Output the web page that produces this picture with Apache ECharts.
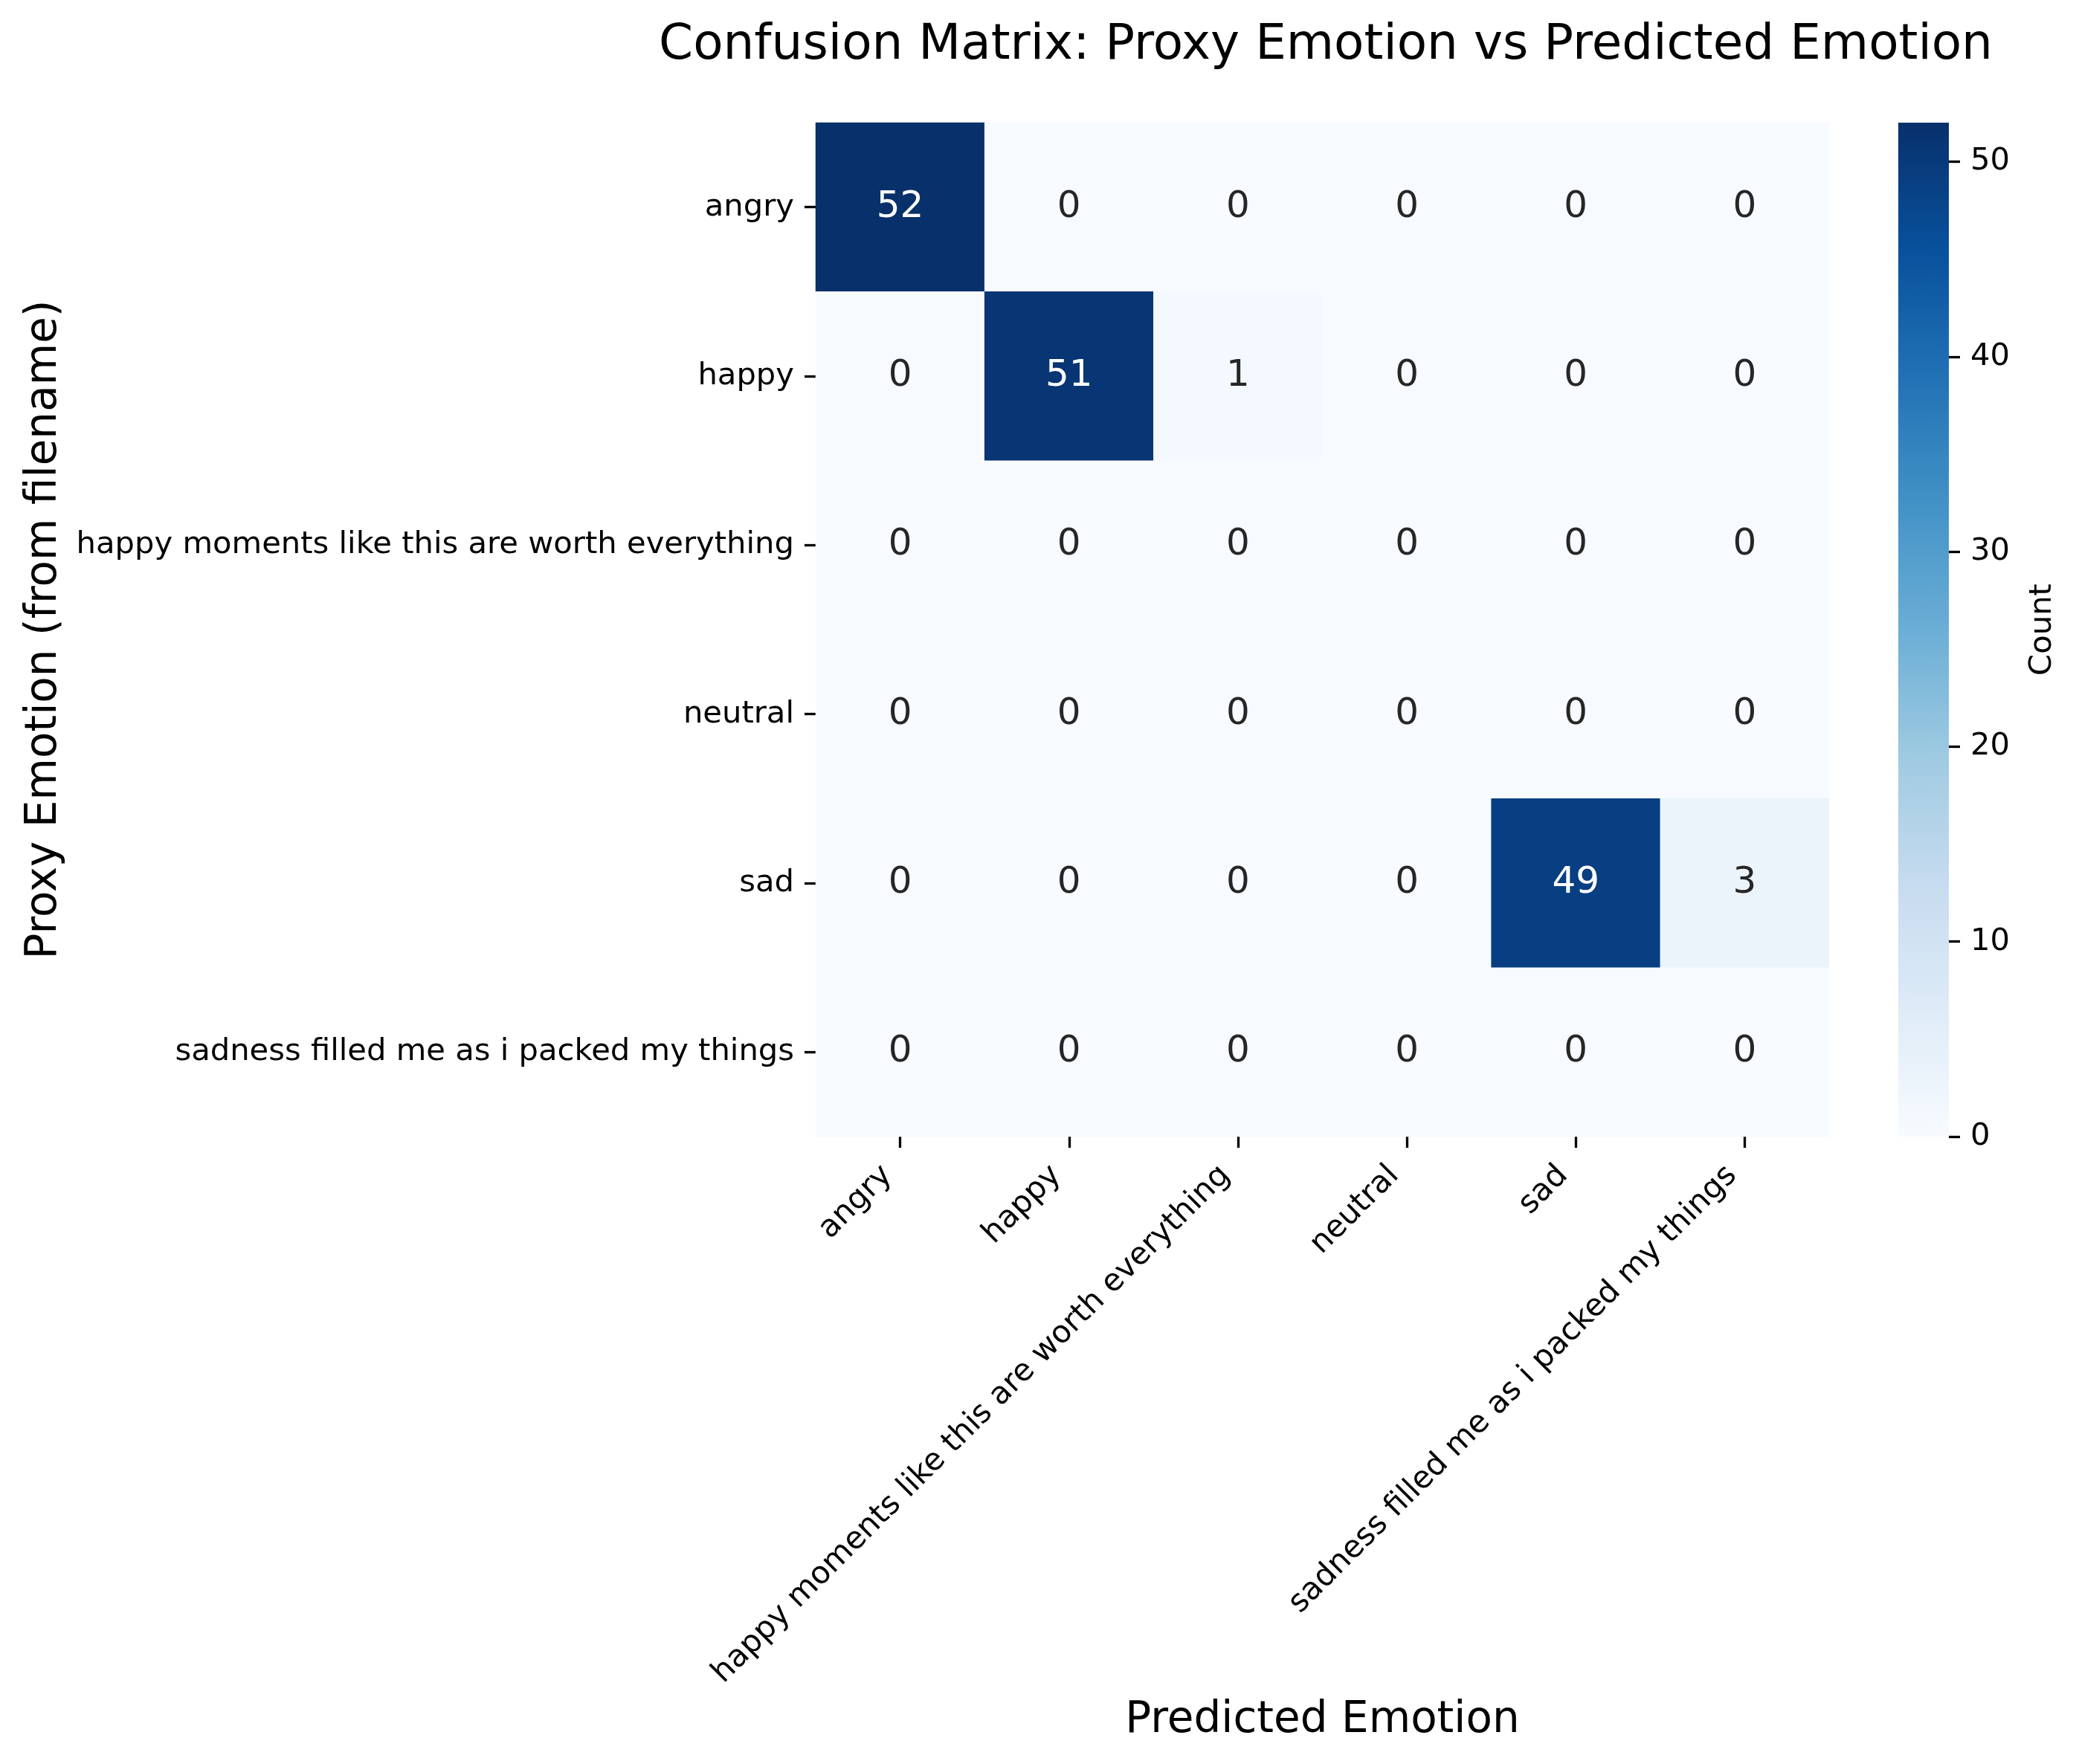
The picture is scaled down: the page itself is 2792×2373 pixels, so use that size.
<!DOCTYPE html>
<html>
<head>
<meta charset="utf-8">
<script src="https://cdn.jsdelivr.net/npm/echarts@6/dist/echarts.min.js"></script>
<style>
  html, body { margin: 0; padding: 0; background: #fff; }
  #chart { width: 2792px; height: 2373px; }
</style>
</head>
<body>
<div id="chart"></div>
<script>
// labels for both axes (same order as the matrix)
const emotions = [
  'angry',
  'happy',
  'happy moments like this are worth everything',
  'neutral',
  'sad',
  'sadness filled me as i packed my things'
];

// rows = proxy emotion, columns = predicted emotion
const rowAngry   = [52, 0, 0, 0, 0, 0];
const rowHappy   = [0, 51, 1, 0, 0, 0];
const rowMoments = [0, 0, 0, 0, 0, 0];
const rowNeutral = [0, 0, 0, 0, 0, 0];
const rowSad     = [0, 0, 0, 0, 49, 3];
const rowSadness = [0, 0, 0, 0, 0, 0];
const matrix = [rowAngry, rowHappy, rowMoments, rowNeutral, rowSad, rowSadness];

const colorbarTicks = [0, 10, 20, 30, 40, 50];

// matplotlib "Blues"
const blues = ['#f7fbff', '#deebf7', '#c6dbef', '#9ecae1', '#6baed6',
               '#4292c6', '#2171b5', '#08519c', '#08306b'];

const maxCount = Math.max(...matrix.map(r => Math.max(...r)));

const cells = [];
matrix.forEach((row, y) => {
  row.forEach((v, x) => {
    cells.push({
      value: [x, y, v],
      label: { color: v > maxCount / 2 ? '#ffffff' : '#262626' }
    });
  });
});

const chart = echarts.init(document.getElementById('chart'));
const font = 'DejaVu Sans';

const option = {
  backgroundColor: '#ffffff',
  animation: false,
  textStyle: { fontFamily: font },
  title: {
    text: 'Confusion Matrix: Proxy Emotion vs Predicted Emotion',
    left: 1778,
    top: 24,
    textAlign: 'center',
    textStyle: { fontFamily: font, fontSize: 66, fontWeight: 'normal', color: '#000' }
  },
  grid: [
    { left: 1097, top: 165, width: 1363, height: 1364 },
    { left: 2553, top: 165, width: 68, height: 1364 }
  ],
  xAxis: [
    {
      type: 'category',
      gridIndex: 0,
      data: emotions,
      name: 'Predicted Emotion',
      nameLocation: 'middle',
      nameGap: 757,
      nameTextStyle: { fontFamily: font, fontSize: 58, color: '#000' },
      axisLine: { show: false },
      axisTick: { show: true, alignWithLabel: true, length: 15, lineStyle: { color: '#000', width: 3.3 } },
      axisLabel: {
        interval: 0, rotate: 45, margin: 29, padding: [0, 24, 0, 0],
        fontFamily: font, fontSize: 41.7, color: '#000'
      },
      splitLine: { show: false },
      splitArea: { show: false }
    },
    {
      type: 'category',
      gridIndex: 1,
      data: ['count'],
      show: false
    }
  ],
  yAxis: [
    {
      type: 'category',
      gridIndex: 0,
      data: emotions,
      inverse: true,
      name: 'Proxy Emotion (from filename)',
      nameLocation: 'middle',
      nameGap: 1008,
      nameRotate: 90,
      nameTextStyle: { fontFamily: font, fontSize: 58, color: '#000' },
      axisLine: { show: false },
      axisTick: { show: true, alignWithLabel: true, length: 15, lineStyle: { color: '#000', width: 3.3 } },
      axisLabel: { interval: 0, margin: 29, fontFamily: font, fontSize: 41.7, color: '#000' },
      splitLine: { show: false },
      splitArea: { show: false }
    },
    {
      type: 'value',
      gridIndex: 1,
      position: 'right',
      min: 0,
      max: maxCount,
      interval: 10,
      name: 'Count',
      nameLocation: 'middle',
      nameGap: 105,
      nameRotate: 90,
      nameTextStyle: { fontFamily: font, fontSize: 41.7, color: '#000' },
      axisLine: { show: false },
      axisTick: {
        show: true, length: 15, customValues: colorbarTicks,
        lineStyle: { color: '#000', width: 3.3 }
      },
      axisLabel: {
        margin: 29, fontFamily: font, fontSize: 41.7, color: '#000',
        customValues: colorbarTicks
      },
      splitLine: { show: false }
    }
  ],
  visualMap: {
    show: false,
    type: 'continuous',
    seriesIndex: 0,
    dimension: 2,
    min: 0,
    max: maxCount,
    inRange: { color: blues }
  },
  series: [
    {
      type: 'heatmap',
      xAxisIndex: 0,
      yAxisIndex: 0,
      data: cells,
      label: {
        show: true,
        fontFamily: font,
        fontSize: 50,
        formatter: p => String(p.value[2])
      },
      itemStyle: { borderWidth: 0 },
      emphasis: { disabled: true }
    },
    {
      type: 'bar',
      xAxisIndex: 1,
      yAxisIndex: 1,
      data: [maxCount],
      barWidth: '100%',
      silent: true,
      itemStyle: {
        color: new echarts.graphic.LinearGradient(0, 1, 0, 0,
          blues.map((c, i) => ({ offset: i / (blues.length - 1), color: c })))
      }
    }
  ]
};

chart.setOption(option);
</script>
</body>
</html>
